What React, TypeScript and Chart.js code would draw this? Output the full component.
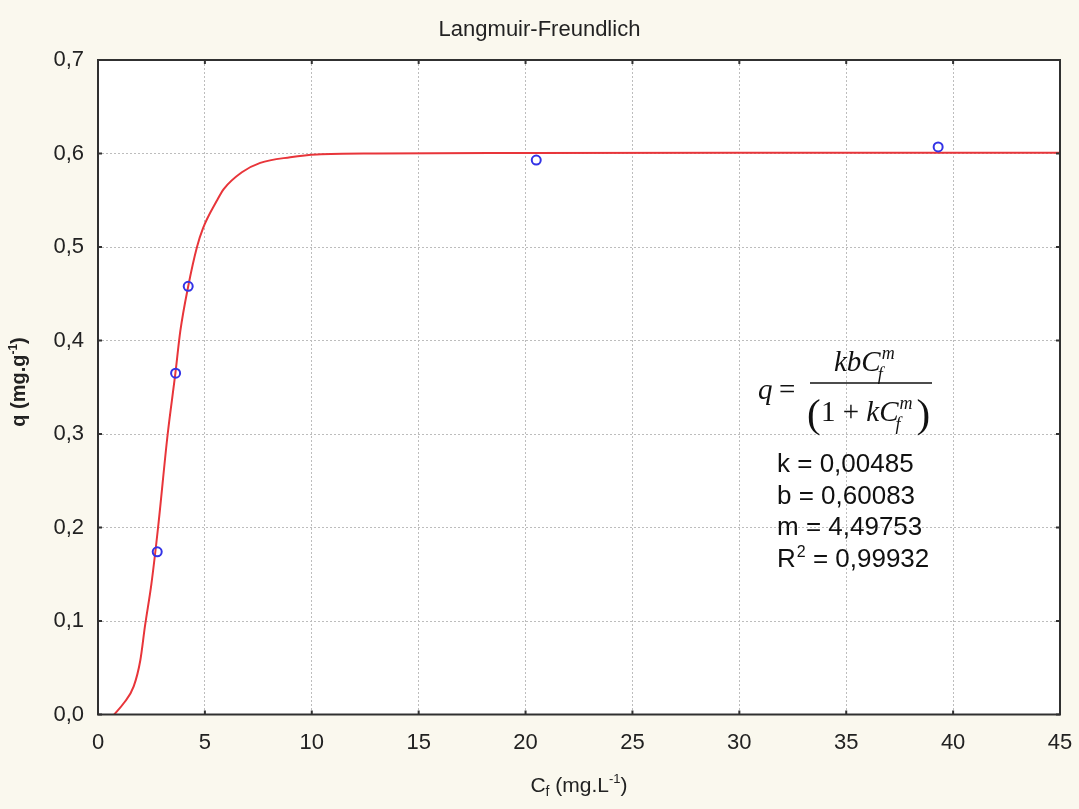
import { useEffect, useRef } from "react";
import { Chart, registerables } from "chart.js";

Chart.register(...registerables);

// Chart text
const chartTitle = "Langmuir-Freundlich";
const paramLines = ["k = 0,00485", "b = 0,60083", "m = 4,49753"];
const r2Value = " = 0,99932";

// Axis ticks
const xTickValues = [0, 5, 10, 15, 20, 25, 30, 35, 40, 45];
const yTickValues = [0, 0.1, 0.2, 0.3, 0.4, 0.5, 0.6, 0.7];

// Experimental points: Cf (mg/L) and q (mg/g)
const measuredCf = [2.77, 3.63, 4.22, 20.5, 39.3];
const measuredQ = [0.174, 0.365, 0.458, 0.593, 0.607];

// Fitted Langmuir-Freundlich curve
const fitCf = [0.76, 1.2, 1.67, 1.98, 2.2, 2.5, 2.81, 3.26, 3.62, 3.85, 4.22, 4.63, 4.91, 5.57, 5.88, 6.73, 7.59, 8.99, 10.24, 13.0, 20, 30, 45];
const fitQ = [0.0, 0.012, 0.03, 0.058, 0.095, 0.14, 0.2, 0.3, 0.365, 0.41, 0.458, 0.5, 0.52, 0.55, 0.562, 0.58, 0.59, 0.596, 0.599, 0.6, 0.6005, 0.6008, 0.6008];

const BG = "#FAF8EE";
const INK = "#222222";
const SANS = '"Liberation Sans", Arial, sans-serif';
const SERIF = '"Liberation Serif", "Times New Roman", serif';

const fmt = (v: number) => v.toFixed(1).replace(".", ",");

const drawParts = (ctx: any, parts: { t: string; f: string; dy: number }[], startX: number, base: number) => {
  let x = startX;
  parts.forEach((p) => {
    ctx.font = p.f;
    ctx.fillText(p.t, x, base + p.dy);
    x += ctx.measureText(p.t).width;
  });
};

const partsWidth = (ctx: any, parts: { t: string; f: string; dy: number }[]) => {
  let w = 0;
  parts.forEach((p) => {
    ctx.font = p.f;
    w += ctx.measureText(p.t).width;
  });
  return w;
};

const decorations = {
  id: "decorations",
  beforeDraw(chart: any) {
    const { ctx, chartArea: a } = chart;
    ctx.save();
    ctx.fillStyle = BG;
    ctx.fillRect(0, 0, chart.width, chart.height);
    ctx.fillStyle = "#ffffff";
    ctx.fillRect(a.left, a.top, a.right - a.left, a.bottom - a.top);
    ctx.restore();
  },
  afterDraw(chart: any) {
    const { ctx, chartArea: a } = chart;
    const xs = chart.scales.x;
    const ys = chart.scales.y;
    ctx.save();

    // inward tick marks on all four sides
    ctx.strokeStyle = "#333";
    ctx.lineWidth = 2;
    ctx.beginPath();
    xTickValues.forEach((v) => {
      const px = xs.getPixelForValue(v);
      ctx.moveTo(px, a.bottom);
      ctx.lineTo(px, a.bottom - 4);
      ctx.moveTo(px, a.top);
      ctx.lineTo(px, a.top + 4);
    });
    yTickValues.forEach((v) => {
      const py = ys.getPixelForValue(v);
      ctx.moveTo(a.left, py);
      ctx.lineTo(a.left + 4, py);
      ctx.moveTo(a.right, py);
      ctx.lineTo(a.right - 4, py);
    });
    ctx.stroke();

    // frame
    ctx.strokeStyle = "#303030";
    ctx.lineWidth = 2;
    ctx.strokeRect(a.left, a.top, a.right - a.left, a.bottom - a.top);

    // title
    ctx.fillStyle = INK;
    ctx.font = `22px ${SANS}`;
    ctx.textAlign = "center";
    ctx.textBaseline = "alphabetic";
    ctx.fillText(chartTitle, chart.width / 2, 36);

    // x axis title: C_f (mg.L^-1)
    ctx.textAlign = "left";
    const xParts = [
      { t: "C", f: `21px ${SANS}`, dy: 0 },
      { t: "f", f: `14px ${SANS}`, dy: 4 },
      { t: " (mg.L", f: `21px ${SANS}`, dy: 0 },
      { t: "-1", f: `13px ${SANS}`, dy: -9 },
      { t: ")", f: `21px ${SANS}`, dy: 0 },
    ];
    drawParts(ctx, xParts, (a.left + a.right) / 2 - partsWidth(ctx, xParts) / 2, 792);

    // y axis title: q (mg.g^-1), rotated
    ctx.save();
    ctx.translate(25, 382);
    ctx.rotate(-Math.PI / 2);
    const yParts = [
      { t: "q (mg.g", f: `bold 20px ${SANS}`, dy: 0 },
      { t: "-1", f: `bold 12px ${SANS}`, dy: -8 },
      { t: ")", f: `bold 20px ${SANS}`, dy: 0 },
    ];
    drawParts(ctx, yParts, -partsWidth(ctx, yParts) / 2, 0);
    ctx.restore();

    // model equation
    ctx.fillStyle = "#111";
    const it = `italic 29px ${SERIF}`;
    const up = `29px ${SERIF}`;
    const sIt = `italic 18px ${SERIF}`;
    const paren = `41px ${SERIF}`;
    ctx.font = it;
    ctx.fillText("q", 758, 399);
    ctx.font = up;
    ctx.fillText("=", 779, 399);
    ctx.strokeStyle = "#111";
    ctx.lineWidth = 1.3;
    ctx.beginPath();
    ctx.moveTo(810, 383);
    ctx.lineTo(932, 383);
    ctx.stroke();

    // numerator kbC_f^m
    ctx.font = it;
    let nx = 834;
    ctx.fillText("kbC", nx, 371);
    nx += ctx.measureText("kbC").width;
    ctx.font = sIt;
    ctx.fillText("m", nx + 1, 359);
    ctx.fillText("f", nx - 3, 380);

    // denominator (1 + kC_f^m)
    ctx.font = paren;
    ctx.fillText("(", 807, 427);
    ctx.font = up;
    let dx = 821;
    ctx.fillText("1 + ", dx, 421);
    dx += ctx.measureText("1 + ").width;
    ctx.font = it;
    ctx.fillText("kC", dx, 421);
    dx += ctx.measureText("kC").width;
    ctx.font = sIt;
    ctx.fillText("m", dx + 1, 409);
    ctx.fillText("f", dx - 3, 430);
    dx += ctx.measureText("m").width + 5;
    ctx.font = paren;
    ctx.fillText(")", dx, 427);

    // fitted parameters
    ctx.font = `26px ${SANS}`;
    ctx.fillStyle = "#111";
    const px0 = 777;
    paramLines.forEach((s, i) => {
      ctx.fillText(s, px0, 472 + i * 31.6);
    });
    const rBase = 472 + 3 * 31.6;
    ctx.fillText("R", px0, rBase);
    let rx = px0 + ctx.measureText("R").width;
    ctx.font = `16px ${SANS}`;
    ctx.fillText("2", rx + 1, rBase - 10);
    rx += ctx.measureText("2").width + 1;
    ctx.font = `26px ${SANS}`;
    ctx.fillText(r2Value, rx, rBase);

    ctx.restore();
  },
};

export default function App() {
  const ref = useRef<HTMLCanvasElement | null>(null);

  useEffect(() => {
    if (!ref.current) return;
    const chart = new Chart(ref.current, {
      type: "scatter",
      data: {
        datasets: [
          {
            type: "scatter",
            label: "measured",
            data: measuredCf.map((x, i) => ({ x, y: measuredQ[i] })),
            pointStyle: "circle",
            pointRadius: 4.5,
            pointBorderWidth: 2,
            pointBorderColor: "#3333E6",
            pointBackgroundColor: "rgba(0,0,0,0)",
            order: 1,
          },
          {
            type: "line",
            label: "fit",
            data: fitCf.map((x, i) => ({ x, y: fitQ[i] })),
            borderColor: "#E8353A",
            borderWidth: 2,
            pointRadius: 0,
            fill: false,
            cubicInterpolationMode: "monotone",
            order: 2,
          },
        ],
      },
      options: {
        responsive: false,
        animation: false,
        layout: { padding: { left: 0, top: 60, right: 19, bottom: 0 } },
        plugins: {
          legend: { display: false },
          title: { display: false },
          tooltip: { enabled: false },
        },
        scales: {
          x: {
            type: "linear",
            min: 0,
            max: 45,
            afterBuildTicks: (s: any) => {
              s.ticks = xTickValues.map((v) => ({ value: v }));
            },
            afterFit: (s: any) => {
              s.height = 94.5;
              s.paddingLeft = 0;
              s.paddingRight = 0;
            },
            grid: {
              color: "#BDBDBD",
              lineWidth: 1,
              drawTicks: false,
            },
            border: { display: false, dash: [2, 2] },
            ticks: {
              padding: 15,
              color: INK,
              font: { family: SANS, size: 22 },
              maxRotation: 0,
              autoSkip: false,
            },
          },
          y: {
            type: "linear",
            min: 0,
            max: 0.7,
            afterBuildTicks: (s: any) => {
              s.ticks = yTickValues.map((v) => ({ value: v }));
            },
            afterFit: (s: any) => {
              s.width = 98;
              s.paddingTop = 0;
              s.paddingBottom = 0;
            },
            grid: {
              color: "#BDBDBD",
              lineWidth: 1,
              drawTicks: false,
            },
            border: { display: false, dash: [2, 2] },
            ticks: {
              padding: 14,
              color: INK,
              font: { family: SANS, size: 22 },
              callback: (v: any) => fmt(Number(v)),
              autoSkip: false,
            },
          },
        },
      },
      plugins: [decorations],
    } as any);
    return () => chart.destroy();
  }, []);

  return (
    <div
      style={{
        position: "fixed",
        left: 0,
        top: 0,
        width: 1079,
        height: 809,
        background: BG,
      }}
    >
      <canvas ref={ref} width={1079} height={809} style={{ display: "block" }} />
    </div>
  );
}
